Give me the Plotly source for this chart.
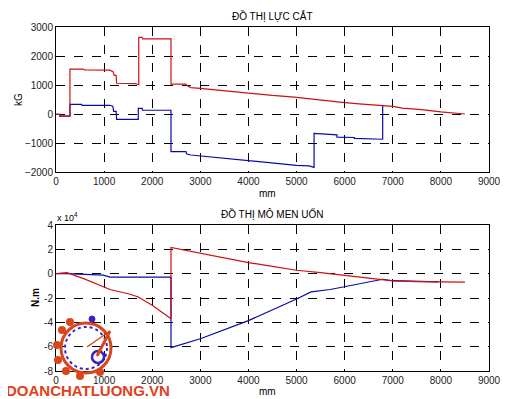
import plotly.graph_objects as go

# ---------------- data ----------------
# Shear force (kG) vs position (mm)
shear_red_x = [0, 80, 80, 290, 290, 560, 600, 1120, 1190, 1210, 1250, 1260, 1650, 1700, 1720, 1720, 1790, 1800, 2390,
               2390, 2700, 2720, 2800, 3000, 3500, 4000, 4500, 4950, 5050, 5500, 5900, 6300, 6800, 7000, 7200, 7600, 8000, 8500]
shear_red_y = [-10, -10, -70, -70, 1550, 1550, 1520, 1510, 1450, 1330, 1330, 1060, 1050, 1010, 1010, 2640, 2640, 2590, 2590,
               1030, 1030, 980, 910, 886, 800, 714, 640, 585, 565, 490, 410, 350, 290, 265, 200, 150, 70, 0]
shear_blue_x = [0, 80, 80, 290, 290, 530, 540, 1120, 1180, 1200, 1250, 1260, 1710, 1710, 1790, 1800, 2390,
                2390, 2700, 2720, 2800, 3000, 3500, 4000, 4500, 5000, 5260, 5364, 5364, 5700, 5840, 5840, 6200, 6200, 6790, 6790]
shear_blue_y = [-10, -10, -70, -70, 335, 335, 300, 300, 270, 90, 90, -185, -185, 195, 195, 130, 130,
                -1300, -1300, -1380, -1414, -1448, -1530, -1621, -1700, -1770, -1790, -1840, -666, -700, -720, -800, -810, -840, -870, 276]

# Bending moment (N.m) vs position (mm)
moment_red_x = [0, 230, 600, 983, 1123, 1500, 1700, 2000, 2390, 2390, 3000, 3478, 4000, 4500, 5000, 5500, 5900, 6000,
                6500, 7000, 7500, 8000, 8500]
moment_red_y = [0, 800, -4500, -10700, -13000, -16500, -19000, -26000, -37000, 21500, 16700, 12700, 9100, 6000, 2800,
                800, -1000, -1900, -4000, -6000, -6500, -7000, -7000]
moment_blue_x = [0, 230, 983, 1123, 2390, 2390, 3000, 4000, 5000, 5300, 5700, 6000, 6300, 6790, 7000, 7300, 7400, 7700, 7950]
moment_blue_y = [0, 0, -1200, -2800, -2800, -60800, -53500, -38600, -20800, -15000, -13000, -10700, -8500, -4600,
                 -5800, -6100, -6300, -6700, -6800]

x_ticks = [0, 1000, 2000, 3000, 4000, 5000, 6000, 7000, 8000, 9000]
shear_ticks = [-2000, -1000, 0, 1000, 2000, 3000]
moment_tick_vals = [-80000, -60000, -40000, -20000, 0, 20000, 40000]
moment_tick_text = ["-8", "-6", "-4", "-2", "0", "2", "4"]

RED = "#cc1111"
BLUE = "#0a0aa8"
OFF = 8  # page body margin
W, H = 521 - OFF, 399 - OFF

fig = go.Figure()
fig.add_trace(go.Scatter(x=shear_blue_x, y=shear_blue_y, mode="lines", line=dict(color=BLUE, width=1.2),
                         xaxis="x", yaxis="y", showlegend=False))
fig.add_trace(go.Scatter(x=shear_red_x, y=shear_red_y, mode="lines", line=dict(color=RED, width=1.2),
                         xaxis="x", yaxis="y", showlegend=False))
fig.add_trace(go.Scatter(x=moment_blue_x, y=moment_blue_y, mode="lines", line=dict(color=BLUE, width=1.2),
                         xaxis="x2", yaxis="y2", showlegend=False))
fig.add_trace(go.Scatter(x=moment_red_x, y=moment_red_y, mode="lines", line=dict(color=RED, width=1.2),
                         xaxis="x2", yaxis="y2", showlegend=False))

def px(x):
    return (x - OFF) / W

def py(y):
    return 1 - (y - OFF) / H

axis_common = dict(showline=True, mirror=True, linecolor="black", linewidth=1, automargin=False,
                   showgrid=True, gridcolor="black", griddash="dash", gridwidth=1,
                   zeroline=False, ticks="", tickfont=dict(size=10, color="#222222"))

fig.update_layout(
    width=W, height=H,
    margin=dict(l=0, r=0, t=0, b=0, autoexpand=False),
    paper_bgcolor="white", plot_bgcolor="white",
    font=dict(family="Liberation Sans, Arial, sans-serif", size=10, color="black"),
    xaxis=dict(domain=[px(56), px(489)], range=[0, 9000], tickvals=x_ticks, anchor="y", **axis_common),
    yaxis=dict(domain=[py(172), py(27)], range=[-2000, 3000], tickvals=shear_ticks, anchor="x", **axis_common),
    xaxis2=dict(domain=[px(56), px(489)], range=[0, 9000], tickvals=x_ticks, anchor="y2", **axis_common),
    yaxis2=dict(domain=[py(371), py(225)], range=[-80000, 40000], tickvals=moment_tick_vals,
                ticktext=moment_tick_text, anchor="x2", **axis_common),
)

ann = [
    dict(text="ĐỒ THỊ LỰC CẮT", x=px(272), y=py(16), font=dict(size=10)),
    dict(text="mm", x=px(267), y=py(193), font=dict(size=10)),
    dict(text="kG", x=px(18), y=py(100), textangle=-90, font=dict(size=10)),
    dict(text="ĐỒ THỊ MÔ MEN UỐN", x=px(272), y=py(214), font=dict(size=10)),
    dict(text="mm", x=px(267), y=py(391), font=dict(size=10)),
    dict(text="<b>N.m</b>", x=px(35), y=py(298), textangle=-90, font=dict(size=10)),
    dict(text="x 10<sup>4</sup>", x=px(67), y=py(217), font=dict(size=9)),
    dict(text="<b>DOANCHATLUONG.VN</b>", x=px(88), y=py(390),
         font=dict(size=15, color="#e2401a", family="Liberation Sans, Arial, sans-serif")),
]
fig.update_layout(annotations=[dict(xref="paper", yref="paper", showarrow=False, xanchor="center",
                                    yanchor="middle", **a) for a in ann])

# watermark logo (approximation)
ORANGE = "#d9461a"
cx, cy, r = 86, 348, 25
shapes = [
    dict(type="circle", x0=px(cx - r), x1=px(cx + r), y0=py(cy + r), y1=py(cy - r),
         line=dict(color=ORANGE, width=3)),
    dict(type="circle", x0=px(cx - r + 4), x1=px(cx + r - 4), y0=py(cy + r - 4), y1=py(cy - r + 4),
         line=dict(color="#3a22c8", width=2, dash="dot")),
    dict(type="circle", x0=px(92), x1=px(104), y0=py(363), y1=py(351),
         line=dict(color="#3a22c8", width=2.5)),
    dict(type="circle", x0=px(89), x1=px(95), y0=py(322), y1=py(316),
         fillcolor="#3a22c8", line=dict(color="#3a22c8", width=1)),
    dict(type="line", x0=px(97), y0=py(356), x1=px(110), y1=py(331), line=dict(color=ORANGE, width=3)),
    dict(type="line", x0=px(87), y0=py(347), x1=px(110), y1=py(331), line=dict(color=ORANGE, width=1.5)),
]
for (gx, gy) in [(62, 330), (57, 345), (58, 360), (66, 371), (80, 376), (100, 372), (70, 322)]:
    shapes.append(dict(type="circle", x0=px(gx - 4), x1=px(gx + 4), y0=py(gy + 4), y1=py(gy - 4),
                       fillcolor=ORANGE, line=dict(color=ORANGE, width=0)))
fig.update_layout(shapes=[dict(xref="paper", yref="paper", layer="above", **s) for s in shapes])

fig.write_html("out.html")
